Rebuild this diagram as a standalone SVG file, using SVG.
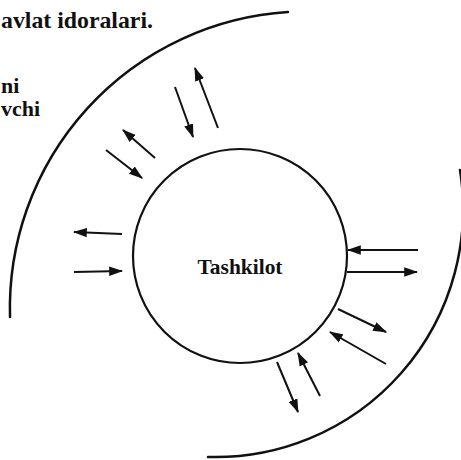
<svg xmlns="http://www.w3.org/2000/svg" width="461" height="460" viewBox="0 0 461 460">
  <style>
    .txt { font-family: "Liberation Serif", "Times New Roman", serif; font-weight: bold; fill: #111; }
    .arc { fill: none; stroke: #111; stroke-width: 2.5; stroke-linecap: round; }
    .node { fill: #fff; stroke: #111; stroke-width: 2.2; }
    .conn { stroke: #111; stroke-width: 2; fill: none; marker-end: url(#head); }
  </style>
  <defs>
    <marker id="head" viewBox="0 0 12 8" refX="11" refY="4" markerWidth="14" markerHeight="10" markerUnits="userSpaceOnUse" orient="auto">
      <path d="M0,0 L12,4 L0,8 z" fill="#111"/>
    </marker>
  </defs>
  <rect width="461" height="460" fill="#fff"/>

  <g id="labels">
    <text class="txt" x="1" y="28" font-size="24" textLength="152" lengthAdjust="spacingAndGlyphs">avlat idoralari.</text>
    <text class="txt" x="1" y="93" font-size="22">ni</text>
    <text class="txt" x="1" y="116" font-size="22">vchi</text>
  </g>

  <g id="environment">
    <path class="arc" d="M288,12 A297,297 0 0 0 10,317"/>
    <path class="arc" d="M460,170 A248,248 0 0 1 208,457"/>
  </g>

  <g id="tashkilot">
    <circle class="node" cx="240" cy="256" r="107"/>
    <text class="txt" x="240" y="274" font-size="21" text-anchor="middle" textLength="85" lengthAdjust="spacingAndGlyphs">Tashkilot</text>
  </g>

  <g id="connectors">
    <line class="conn" x1="218" y1="128" x2="195" y2="68"/>
    <line class="conn" x1="175" y1="87" x2="193" y2="137"/>
    <line class="conn" x1="155" y1="158" x2="123" y2="130"/>
    <line class="conn" x1="106" y1="150" x2="142" y2="178"/>
    <line class="conn" x1="122" y1="234" x2="74" y2="232"/>
    <line class="conn" x1="74" y1="272" x2="122" y2="271"/>
    <line class="conn" x1="418" y1="250" x2="348" y2="250"/>
    <line class="conn" x1="347" y1="272" x2="417" y2="272"/>
    <line class="conn" x1="338" y1="309" x2="386" y2="332"/>
    <line class="conn" x1="386" y1="364" x2="330" y2="332"/>
    <line class="conn" x1="320" y1="396" x2="298" y2="353"/>
    <line class="conn" x1="277" y1="362" x2="298" y2="412"/>
  </g>
</svg>
